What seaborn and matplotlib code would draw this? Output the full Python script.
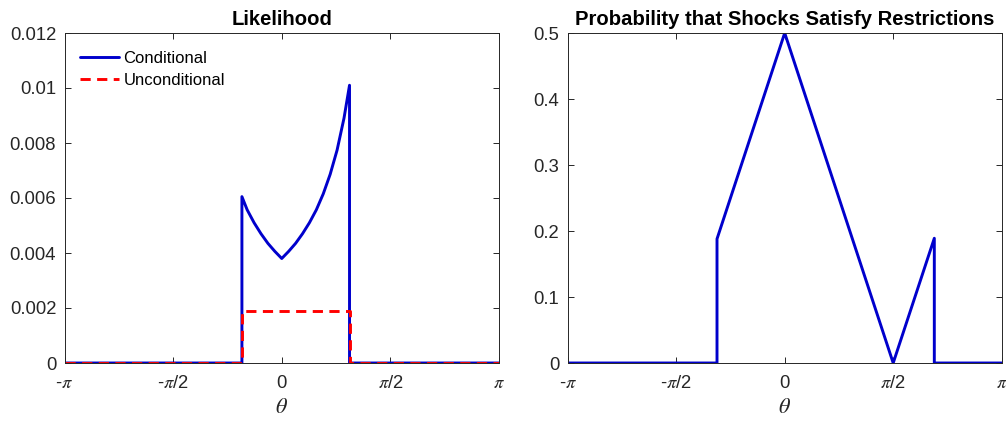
import numpy as np
import pandas as pd
import matplotlib
matplotlib.use("Agg")
import matplotlib.pyplot as plt
import seaborn as sns

PI = np.pi

# ---- Likelihood panel data ----
cond_theta = [-PI, -0.576, -0.576, -0.5, -0.4, -0.3, -0.2, -0.1, 0.0, 0.1, 0.2, 0.3,
              0.4, 0.5, 0.6, 0.7, 0.8, 0.9, 0.98, 0.98, PI]
cond_value = [0.0, 0.0, 0.00605, 0.00557, 0.00510, 0.00470, 0.00435, 0.00406, 0.0038,
              0.00406, 0.00435, 0.00470, 0.00510, 0.00557, 0.00615, 0.00686, 0.00774,
              0.00890, 0.0101, 0.0, 0.0]
uncond_theta = [-PI, -0.576, -0.576, 0.98, 0.98, PI]
uncond_value = [0.0, 0.0, 0.0019, 0.0019, 0.0, 0.0]

# ---- Probability panel data ----
prob_theta = [-PI, -0.98, -0.98, 0.0, PI / 2, 2.166, 2.166, PI]
prob_value = [0.0, 0.0, 0.188, 0.5, 0.0, 0.189, 0.0, 0.0]

x_ticks = [-PI, -PI / 2, 0, PI / 2, PI]
x_ticklabels = [r"-$\pi$", r"-$\pi$/2", "0", r"$\pi$/2", r"$\pi$"]
y1_ticks = [0, 0.002, 0.004, 0.006, 0.008, 0.010, 0.012]
y1_ticklabels = ["0", "0.002", "0.004", "0.006", "0.008", "0.01", "0.012"]
y2_ticks = [0, 0.1, 0.2, 0.3, 0.4, 0.5]
y2_ticklabels = ["0", "0.1", "0.2", "0.3", "0.4", "0.5"]

sns.set_theme(style="white")
plt.rcParams["font.family"] = ["Liberation Sans", "DejaVu Sans"]
plt.rcParams["mathtext.fontset"] = "stix"

W, H = 1006, 421
fig = plt.figure(figsize=(W / 100, H / 100), dpi=100)
ax1 = fig.add_axes([64.5 / W, (H - 363) / H, 434.5 / W, 330 / H])
ax2 = fig.add_axes([567.7 / W, (H - 363) / H, 434 / W, 330 / H])

BLUE = "#0000CC"
RED = "#FF0000"
LW = 2.1

sns.lineplot(x=cond_theta, y=cond_value, ax=ax1, estimator=None, sort=False,
             color=BLUE, linewidth=LW, label="Conditional")
sns.lineplot(x=uncond_theta, y=uncond_value, ax=ax1, estimator=None, sort=False,
             color=RED, linewidth=LW, label="Unconditional", dashes=False)
ax1.lines[-1].set_dashes((3.5, 2.2))

sns.lineplot(x=prob_theta, y=prob_value, ax=ax2, estimator=None, sort=False,
             color=BLUE, linewidth=LW)

GRAY = "#262626"
for ax, yt, ytl, ylim, title in [
    (ax1, y1_ticks, y1_ticklabels, (0, 0.012), "Likelihood"),
    (ax2, y2_ticks, y2_ticklabels, (0, 0.5), "Probability that Shocks Satisfy Restrictions"),
]:
    ax.set_xlim(-PI, PI)
    ax.set_ylim(*ylim)
    ax.set_xticks(x_ticks)
    ax.set_xticklabels(x_ticklabels)
    ax.set_yticks(yt)
    ax.set_yticklabels(ytl)
    ax.tick_params(direction="in", length=4, width=0.7, color=GRAY, labelcolor=GRAY,
                   labelsize=13.3, top=True, right=True, bottom=True, left=True)
    ax.tick_params(axis="x", pad=9)
    ax.tick_params(axis="y", pad=6)
    for s in ax.spines.values():
        s.set_visible(True)
        s.set_color(GRAY)
        s.set_linewidth(0.7)
    ax.set_xlabel(r"$\theta$", fontsize=16, color=GRAY, labelpad=3)
    ax.set_ylabel("")
    ax.set_title(title, fontsize=14.6, fontweight="bold", color="black", pad=6)
    ax.set_facecolor("white")

leg = ax1.legend(loc="upper left", bbox_to_anchor=(0.036, 0.945), frameon=False,
                 fontsize=12, handlelength=2.35, handletextpad=0.25,
                 labelspacing=0.42, borderaxespad=0, borderpad=0)
for t in leg.get_texts():
    t.set_color("black")

fig.savefig("out.png", dpi=100)
